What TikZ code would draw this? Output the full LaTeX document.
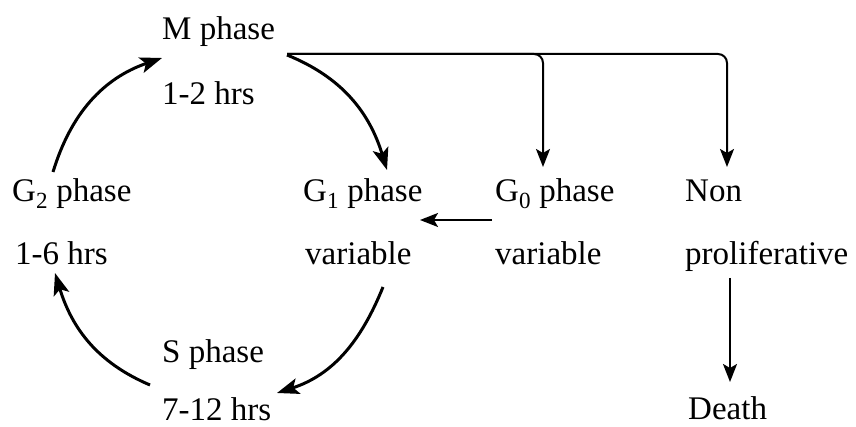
\documentclass[tikz,border=0pt]{standalone}
\usepackage{fontspec}
\setmainfont{Liberation Serif}
\usetikzlibrary{arrows.meta}

\tikzset{
	lbl/.style={anchor=base west, inner sep=0pt, font=\fontsize{33}{40}\selectfont},
	cyc/.style={line width=3pt, -{Stealth[length=22pt,width=16pt,inset=5pt]}},
	lnk/.style={line width=2pt, rounded corners=9pt, -{Stealth[length=18pt,width=14pt,inset=4pt]}},
}

\begin{document}
\begin{tikzpicture}[x=1pt, y=1pt]
		\useasboundingbox (0,0) rectangle (856,427);
		% cycle
		\node [lbl] (m) at (162,387) {M phase};
		\node [lbl] (mt) at (162,322) {1-2 hrs};
		\node [lbl] (gtwo) at (12,225) {G\textsubscript{2} phase};
		\node [lbl] (gtwot) at (15,162) {1-6 hrs};
		\node [lbl] (gone) at (303,225) {G\textsubscript{1} phase};
		\node [lbl] (gonet) at (305,162) {variable};
		\node [lbl] (s) at (162,64) {S phase};
		\node [lbl] (st) at (162,6) {7-12 hrs};
		% exits
		\node [lbl] (gzero) at (495,225) {G\textsubscript{0} phase};
		\node [lbl] (gzerot) at (495,162) {variable};
		\node [lbl] (non) at (685,225) {Non};
		\node [lbl] (nont) at (685,162) {proliferative};
		\node [lbl] (death) at (688,7) {Death};

		\draw [cyc] ([shift={(41pt,30pt)}]gtwo.base west) to [out=73, in=199] ([shift={(0pt,-18pt)}]m.base west);
		\draw [cyc] ([shift={(125pt,-15pt)}]m.base west) to [out=-22, in=107] ([shift={(84pt,32pt)}]gone.base west);
		\draw [cyc] ([shift={(78pt,-22pt)}]gonet.base west) to [out=-112, in=18] ([shift={(115pt,-30pt)}]s.base west);
		\draw [cyc] ([shift={(-12pt,-22pt)}]s.base west) to [out=157, in=-73] ([shift={(40pt,-8pt)}]gtwot.base west);

		\draw [lnk] ([shift={(125pt,-14pt)}]m.base west) -| ([shift={(48pt,35pt)}]gzero.base west);
		\draw [lnk] ([shift={(125pt,-14pt)}]m.base west) -| ([shift={(42pt,35pt)}]non.base west);
		\draw [lnk] ([shift={(-3pt,-18pt)}]gzero.base west) -- ([shift={(117pt,-18pt)}]gone.base west);
		\draw [lnk] ([shift={(45pt,-13pt)}]nont.base west) -- ([shift={(42pt,38pt)}]death.base west);
	\end{tikzpicture}
\end{document}
